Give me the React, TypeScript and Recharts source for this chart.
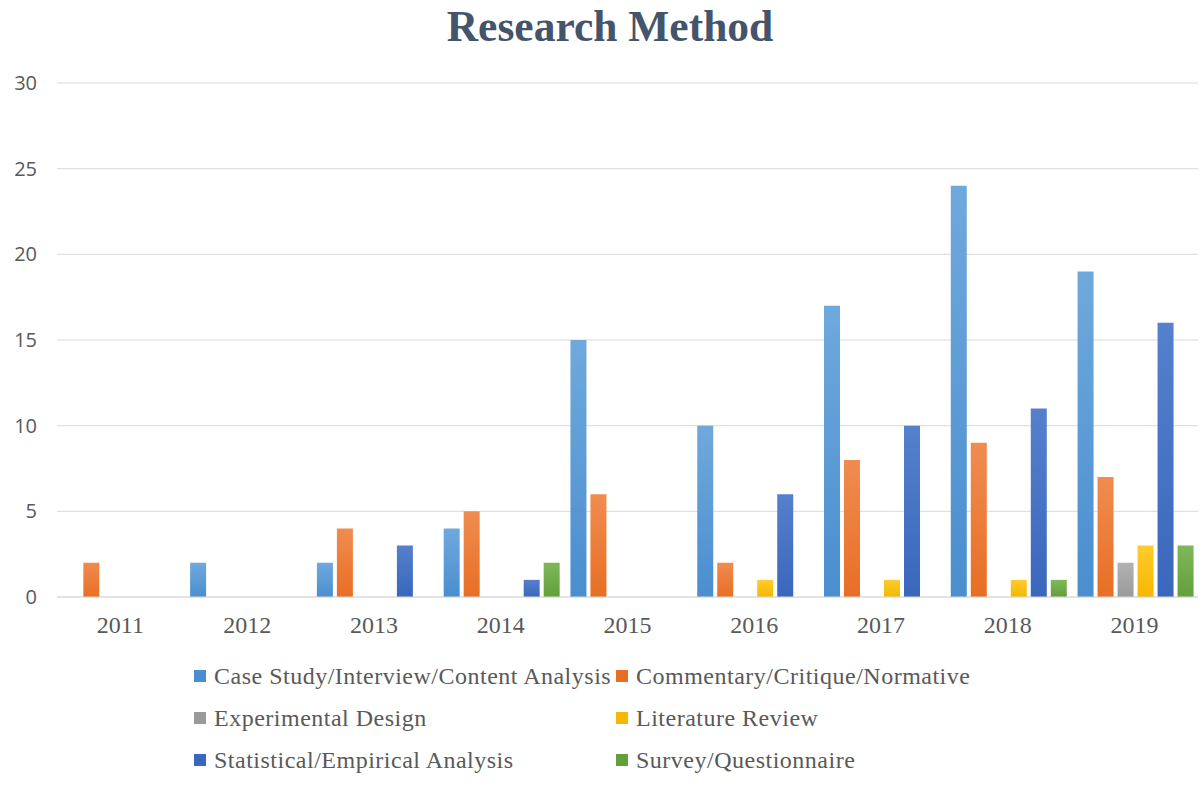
import { BarChart, Bar, XAxis, YAxis, CartesianGrid } from "recharts";

const years = ["2011", "2012", "2013", "2014", "2015", "2016", "2017", "2018", "2019"];
const caseStudy = [0, 2, 2, 4, 15, 10, 17, 24, 19];
const commentary = [2, 0, 4, 5, 6, 2, 8, 9, 7];
const experimental = [0, 0, 0, 0, 0, 0, 0, 0, 2];
const literature = [0, 0, 0, 0, 0, 1, 1, 1, 3];
const statistical = [0, 0, 3, 1, 0, 6, 10, 11, 16];
const survey = [0, 0, 0, 2, 0, 0, 0, 1, 3];
const yTicks = [0, 5, 10, 15, 20, 25, 30];

const series = [
  { key: "caseStudy", name: "Case Study/Interview/Content Analysis", values: caseStudy, top: "#6FA9DC", bottom: "#4A8ECF" },
  { key: "commentary", name: "Commentary/Critique/Normative", values: commentary, top: "#F08C50", bottom: "#E86E24" },
  { key: "experimental", name: "Experimental Design", values: experimental, top: "#B2B2B2", bottom: "#9A9A9A" },
  { key: "literature", name: "Literature Review", values: literature, top: "#FFCB2E", bottom: "#F5B800" },
  { key: "statistical", name: "Statistical/Empirical Analysis", values: statistical, top: "#5580CC", bottom: "#3A67BC" },
  { key: "survey", name: "Survey/Questionnaire", values: survey, top: "#7EB85A", bottom: "#62A03B" },
];

const data = years.map((year, i) => {
  const row: Record<string, string | number> = { year };
  series.forEach((s) => (row[s.key] = s.values[i]));
  return row;
});

const serif = "'Liberation Serif', 'DejaVu Serif', serif";

export default function App() {
  return (
    <div style={{ position: "absolute", left: 0, top: 0, width: 1204, height: 791, background: "#fff" }}>
      <div
        style={{
          position: "absolute",
          top: 1,
          left: 0,
          width: 1220,
          textAlign: "center",
          fontFamily: serif,
          fontWeight: "bold",
          fontSize: 43.5,
          color: "#44546A",
        }}
      >
        Research Method
      </div>
      <BarChart
        width={1204}
        height={791}
        data={data}
        margin={{ top: 83, right: 6, left: 0, bottom: 164 }}
        barCategoryGap="5%"
        barGap={4}
      >
        <defs>
          {series.map((s) => (
            <linearGradient key={s.key} id={`grad-${s.key}`} x1="0" y1="0" x2="0" y2="1">
              <stop offset="0%" stopColor={s.top} />
              <stop offset="100%" stopColor={s.bottom} />
            </linearGradient>
          ))}
        </defs>
        <CartesianGrid vertical={false} stroke="#D9D9D9" />
        <XAxis
          dataKey="year"
          height={30}
          axisLine={{ stroke: "#D9D9D9" }}
          tickLine={false}
          tickMargin={13}
          tick={{ fontSize: 24, fill: "#595959", fontFamily: serif }}
        />
        <YAxis
          width={57}
          domain={[0, 30]}
          ticks={yTicks}
          axisLine={false}
          tickLine={false}
          tickMargin={14}
          tick={{ fontSize: 20, fill: "#595959", fontFamily: "'Open Sans', sans-serif" }}
        />
        {series.map((s) => (
          <Bar key={s.key} dataKey={s.key} name={s.name} fill={`url(#grad-${s.key})`} isAnimationActive={false} />
        ))}
      </BarChart>
      <div
        style={{
          position: "absolute",
          left: 194,
          top: 661,
          display: "grid",
          gridTemplateColumns: "422px 400px",
          rowGap: 12,
          fontFamily: serif,
          fontSize: 24,
          letterSpacing: 0.5,
          color: "#595959",
        }}
      >
        {series.map((s) => (
          <div key={s.key} style={{ display: "flex", alignItems: "center", height: 30 }}>
            <span style={{ width: 12, height: 12, background: s.bottom, marginRight: 8, display: "inline-block" }} />
            {s.name}
          </div>
        ))}
      </div>
    </div>
  );
}
